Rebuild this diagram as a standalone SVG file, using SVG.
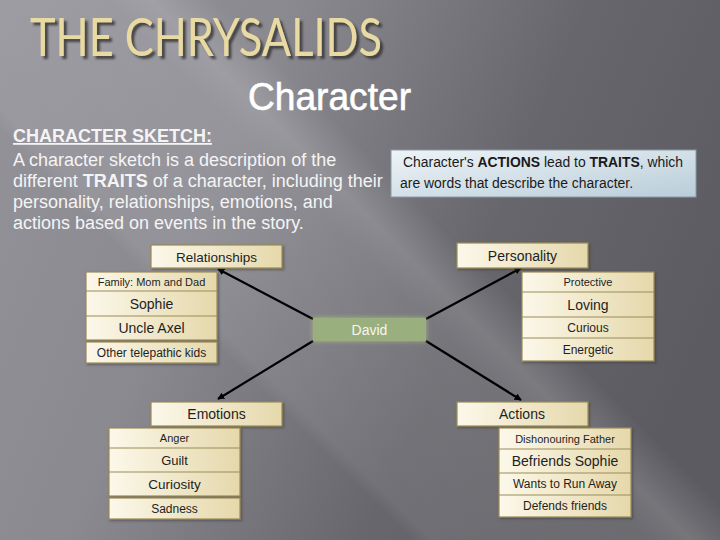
<svg xmlns="http://www.w3.org/2000/svg" width="720" height="540" viewBox="0 0 720 540">
  <defs>
    <linearGradient id="bg" gradientUnits="userSpaceOnUse" x1="0" y1="0" x2="720" y2="300">
      <stop offset="0" stop-color="#94939a"/>
      <stop offset="0.35" stop-color="#8a8990"/>
      <stop offset="0.7" stop-color="#67666c"/>
      <stop offset="1" stop-color="#5c5b61"/>
    </linearGradient>
    <linearGradient id="band" gradientUnits="userSpaceOnUse" x1="0" y1="540" x2="540" y2="0">
      <stop offset="0" stop-color="#ffffff" stop-opacity="0"/>
      <stop offset="0.38" stop-color="#ffffff" stop-opacity="0"/>
      <stop offset="0.40" stop-color="#ffffff" stop-opacity="0.07"/>
      <stop offset="0.6" stop-color="#ffffff" stop-opacity="0.10"/>
      <stop offset="0.64" stop-color="#ffffff" stop-opacity="0.16"/>
      <stop offset="0.70" stop-color="#ffffff" stop-opacity="0"/>
      <stop offset="1" stop-color="#ffffff" stop-opacity="0"/>
    </linearGradient>
    <linearGradient id="cream" x1="0" y1="0" x2="1" y2="0">
      <stop offset="0" stop-color="#fcf8ea"/>
      <stop offset="1" stop-color="#e5d8ab"/>
    </linearGradient>
    <linearGradient id="blue" x1="0" y1="0" x2="1" y2="1">
      <stop offset="0" stop-color="#eef4f7"/>
      <stop offset="1" stop-color="#b9cdd9"/>
    </linearGradient>
    <filter id="shadow" x="-10%" y="-20%" width="130%" height="160%">
      <feDropShadow dx="1.5" dy="1.5" stdDeviation="1" flood-color="#333" flood-opacity="0.5"/>
    </filter>
    <filter id="glow" x="-20%" y="-60%" width="140%" height="220%">
      <feGaussianBlur in="SourceAlpha" stdDeviation="2.5" result="b"/>
      <feFlood flood-color="#b6c98f" flood-opacity="0.8"/>
      <feComposite in2="b" operator="in" result="g"/>
      <feMerge><feMergeNode in="g"/><feMergeNode in="SourceGraphic"/></feMerge>
    </filter>
    <filter id="tshadow" x="-5%" y="-20%" width="110%" height="150%">
      <feDropShadow dx="3" dy="3" stdDeviation="0.8" flood-color="#2e2e30" flood-opacity="0.8"/>
    </filter>
    <marker id="arr" viewBox="0 0 10 10" refX="9" refY="5" markerWidth="3.2" markerHeight="3.2" orient="auto">
      <path d="M0,0 L10,5 L0,10 z" fill="#000"/>
    </marker>
    <style>
      .box { fill: url(#cream); stroke: #9a8b58; stroke-width: 1.2; }
      .sep { stroke: #9a8b58; stroke-width: 1.2; }
      .bt { font-family: "Liberation Sans", Arial, sans-serif; fill: #1e1e1e; text-anchor: middle; }
      .wt { font-family: "Liberation Sans", Arial, sans-serif; fill: #f4f4f4; font-size: 18px; }
      .nt { font-family: "Liberation Sans", Arial, sans-serif; fill: #1a1a1a; font-size: 14px; }
      .conn { stroke: #000; stroke-width: 2.2; fill: none; marker-end: url(#arr); }
    </style>
  </defs>

  <rect width="720" height="540" fill="url(#bg)"/>
  <rect width="720" height="540" fill="url(#band)"/>

  <g id="title">
    <text x="30" y="56" font-family="Lato, 'Open Sans', sans-serif" font-size="52" fill="#e8daa2" textLength="352" lengthAdjust="spacingAndGlyphs" filter="url(#tshadow)">THE CHRYSALIDS</text>
  </g>
  <g id="subtitle">
    <text x="248" y="110" font-family="'Liberation Sans', Arial, sans-serif" font-size="38" fill="#ffffff" stroke="#ffffff" stroke-width="0.6" textLength="163" lengthAdjust="spacingAndGlyphs">Character</text>
  </g>

  <g id="sketch-text">
    <text class="wt" x="13" y="142" font-weight="bold" text-decoration="underline">CHARACTER SKETCH:</text>
    <text class="wt" x="13" y="166">A character sketch is a description of the</text>
    <text class="wt" x="13" y="187">different <tspan font-weight="bold">TRAITS</tspan> of a character, including their</text>
    <text class="wt" x="13" y="208">personality, relationships, emotions, and</text>
    <text class="wt" x="13" y="229">actions based on events in the story.</text>
  </g>

  <g id="note">
    <rect x="391" y="150" width="305" height="47" fill="url(#blue)" stroke="#8a9aa4" stroke-width="1"/>
    <text class="nt" x="403" y="167" textLength="280" lengthAdjust="spacingAndGlyphs">Character's <tspan font-weight="bold">ACTIONS</tspan> lead to <tspan font-weight="bold">TRAITS</tspan>, which</text>
    <text class="nt" x="400" y="188" textLength="233" lengthAdjust="spacingAndGlyphs">are words that describe the character.</text>
  </g>

  <g id="connectors">
    <line class="conn" x1="313" y1="319" x2="218" y2="269"/>
    <line class="conn" x1="426" y1="319" x2="521" y2="268"/>
    <line class="conn" x1="313" y1="341" x2="218" y2="399"/>
    <line class="conn" x1="426" y1="341" x2="521" y2="400"/>
  </g>

  <g id="david">
    <rect x="313" y="318" width="113" height="23" fill="#9aaf7e" filter="url(#glow)"/>
    <text class="bt" x="369.5" y="334.5" font-size="14" style="fill:#f6f6ee">David</text>
  </g>

  <g id="relationships">
    <rect class="box" x="151" y="245" width="131" height="23" filter="url(#shadow)"/>
    <text class="bt" x="216.5" y="261.5" font-size="13.5">Relationships</text>
  </g>
  <g id="relationships-list">
    <rect class="box" x="86" y="272" width="131" height="68" filter="url(#shadow)"/>
    <line class="sep" x1="86" y1="291" x2="217" y2="291"/>
    <line class="sep" x1="86" y1="316" x2="217" y2="316"/>
    <rect class="box" x="86" y="342" width="131" height="21" filter="url(#shadow)"/>
    <text class="bt" x="151.5" y="285.5" font-size="11">Family: Mom and Dad</text>
    <text class="bt" x="151.5" y="308.5" font-size="14">Sophie</text>
    <text class="bt" x="151.5" y="333" font-size="14">Uncle Axel</text>
    <text class="bt" x="151.5" y="356.5" font-size="12">Other telepathic kids</text>
  </g>

  <g id="personality">
    <rect class="box" x="457" y="243" width="131" height="25" filter="url(#shadow)"/>
    <text class="bt" x="522.5" y="260.5" font-size="14">Personality</text>
  </g>
  <g id="personality-list">
    <rect class="box" x="522" y="272" width="132" height="89" filter="url(#shadow)"/>
    <line class="sep" x1="522" y1="292" x2="654" y2="292"/>
    <line class="sep" x1="522" y1="317" x2="654" y2="317"/>
    <line class="sep" x1="522" y1="338" x2="654" y2="338"/>
    <text class="bt" x="588" y="286" font-size="11">Protective</text>
    <text class="bt" x="588" y="309.5" font-size="14">Loving</text>
    <text class="bt" x="588" y="331.5" font-size="12">Curious</text>
    <text class="bt" x="588" y="353.5" font-size="12">Energetic</text>
  </g>

  <g id="emotions">
    <rect class="box" x="151" y="402" width="131" height="24" filter="url(#shadow)"/>
    <text class="bt" x="216.5" y="419" font-size="14">Emotions</text>
  </g>
  <g id="emotions-list">
    <rect class="box" x="109" y="428" width="131" height="68" filter="url(#shadow)"/>
    <line class="sep" x1="109" y1="448" x2="240" y2="448"/>
    <line class="sep" x1="109" y1="472" x2="240" y2="472"/>
    <rect class="box" x="109" y="498" width="131" height="21" filter="url(#shadow)"/>
    <text class="bt" x="174.5" y="442" font-size="11">Anger</text>
    <text class="bt" x="174.5" y="464.5" font-size="13">Guilt</text>
    <text class="bt" x="174.5" y="489" font-size="13.5">Curiosity</text>
    <text class="bt" x="174.5" y="512.5" font-size="12">Sadness</text>
  </g>

  <g id="actions">
    <rect class="box" x="457" y="402" width="131" height="24" filter="url(#shadow)"/>
    <text class="bt" x="522" y="419" font-size="14">Actions</text>
  </g>
  <g id="actions-list">
    <rect class="box" x="499" y="428" width="132" height="89" filter="url(#shadow)"/>
    <line class="sep" x1="499" y1="449" x2="631" y2="449"/>
    <line class="sep" x1="499" y1="473" x2="631" y2="473"/>
    <line class="sep" x1="499" y1="495" x2="631" y2="495"/>
    <text class="bt" x="565" y="442.5" font-size="11">Dishonouring Father</text>
    <text class="bt" x="565" y="466" font-size="14">Befriends Sophie</text>
    <text class="bt" x="565" y="488" font-size="12">Wants to Run Away</text>
    <text class="bt" x="565" y="510" font-size="12">Defends friends</text>
  </g>
</svg>
